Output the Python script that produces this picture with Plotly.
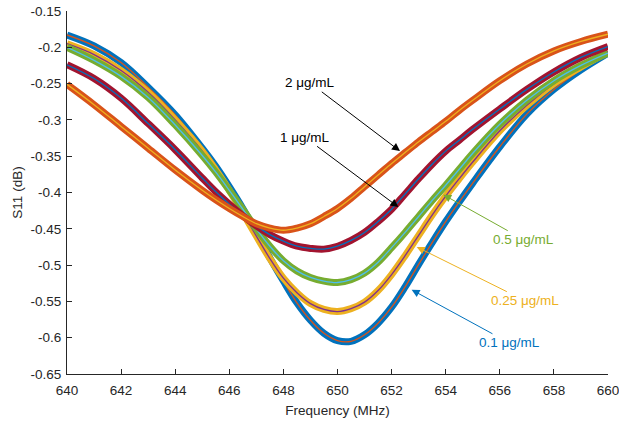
import plotly.graph_objects as go

freq = [640, 641, 642, 643, 644, 645, 645.5, 646, 646.5, 647, 647.5, 648, 648.5, 649, 649.5, 650,
        650.5, 651, 651.5, 652, 652.5, 653, 653.5, 654, 654.5, 655, 656, 657, 658, 659, 660]

s11_01 = [-0.183, -0.198, -0.221, -0.255, -0.293, -0.339, -0.364, -0.392, -0.422, -0.455, -0.490,
          -0.522, -0.552, -0.576, -0.594, -0.604, -0.605, -0.596, -0.580, -0.558, -0.530, -0.499,
          -0.469, -0.440, -0.413, -0.387, -0.337, -0.292, -0.258, -0.231, -0.208]
s11_025 = [-0.195, -0.210, -0.232, -0.262, -0.300, -0.343, -0.369, -0.397, -0.428, -0.460, -0.491,
           -0.518, -0.538, -0.553, -0.561, -0.564, -0.560, -0.551, -0.535, -0.513, -0.487, -0.459,
           -0.431, -0.405, -0.381, -0.358, -0.315, -0.280, -0.250, -0.227, -0.206]
s11_05 = [-0.200, -0.218, -0.240, -0.269, -0.307, -0.349, -0.372, -0.397, -0.423, -0.450, -0.474,
          -0.494, -0.508, -0.517, -0.522, -0.524, -0.520, -0.511, -0.496, -0.476, -0.455, -0.433,
          -0.411, -0.390, -0.368, -0.346, -0.306, -0.273, -0.246, -0.225, -0.208]
s11_1 = [-0.224, -0.243, -0.270, -0.305, -0.341, -0.380, -0.399, -0.416, -0.432, -0.446, -0.458,
         -0.467, -0.474, -0.477, -0.478, -0.474, -0.466, -0.455, -0.440, -0.423, -0.402, -0.381,
         -0.361, -0.343, -0.328, -0.313, -0.285, -0.258, -0.234, -0.214, -0.199]
s11_2 = [-0.251, -0.279, -0.309, -0.339, -0.369, -0.397, -0.410, -0.422, -0.433, -0.443, -0.449,
         -0.452, -0.449, -0.443, -0.433, -0.422, -0.408, -0.392, -0.376, -0.360, -0.345, -0.330,
         -0.316, -0.302, -0.287, -0.273, -0.246, -0.223, -0.205, -0.192, -0.182]

series_names = ["0.1 μg/mL", "0.25 μg/mL", "0.5 μg/mL", "1 μg/mL", "2 μg/mL"]
band_colors = ["#0072BD", "#EDB120", "#77AC30", "#A2142F", "#D95319"]
fit_colors = ["#D95319", "#7E2F8E", "#4DBEEE", "#0072BD", "#EDB120"]
series = [s11_01, s11_025, s11_05, s11_1, s11_2]

x_ticks = [640, 642, 644, 646, 648, 650, 652, 654, 656, 658, 660]
y_ticks = [-0.65, -0.6, -0.55, -0.5, -0.45, -0.4, -0.35, -0.3, -0.25, -0.2, -0.15]
y_tick_text = ["-0.65", "-0.6", "-0.55", "-0.5", "-0.45", "-0.4", "-0.35", "-0.3", "-0.25", "-0.2", "-0.15"]

# annotation: label, text position (freq, s11), arrow tip (freq, s11), color
ann_labels = ["2 μg/mL", "1 μg/mL", "0.5 μg/mL", "0.25 μg/mL", "0.1 μg/mL"]
ann_text_x = [648.98, 648.80, 656.89, 656.93, 656.34]
ann_text_y = [-0.249, -0.324, -0.465, -0.549, -0.607]
ann_tip_x = [652.31, 652.25, 653.91, 652.93, 652.74]
ann_tip_y = [-0.343, -0.420, -0.403, -0.475, -0.534]
ann_colors = ["#000000", "#000000", "#77AC30", "#EDB120", "#0072BD"]

FONT = "Liberation Sans, Arial, Helvetica, sans-serif"
TXT = "#262626"

fig = go.Figure()
for name, ys, bc, fc in zip(series_names, series, band_colors, fit_colors):
    fig.add_trace(go.Scatter(x=freq, y=ys, mode="lines", name=name,
                             line=dict(color=bc, width=7, shape="spline", smoothing=1.0),
                             showlegend=False))
    fig.add_trace(go.Scatter(x=freq, y=ys, mode="lines", name=name + " fit",
                             line=dict(color=fc, width=1.3, shape="spline", smoothing=1.0),
                             showlegend=False))

for lab, tx, ty, px, py, c in zip(ann_labels, ann_text_x, ann_text_y, ann_tip_x, ann_tip_y, ann_colors):
    fig.add_annotation(x=px, y=py, ax=tx, ay=ty, xref="x", yref="y", axref="x", ayref="y",
                       text=lab, showarrow=True, arrowhead=2, arrowsize=1.6, arrowwidth=1,
                       arrowcolor=c, font=dict(family=FONT, size=13.5, color=c))

fig.update_layout(
    width=619, height=424,
    margin=dict(l=67, r=11, t=11, b=50, autoexpand=False),
    paper_bgcolor="white", plot_bgcolor="white",
    font=dict(family=FONT, size=13.5, color=TXT),
    xaxis=dict(range=[640, 660], tickvals=x_ticks, ticks="inside", ticklen=5, tickcolor=TXT,
               showline=True, linecolor=TXT, linewidth=1, showgrid=False, zeroline=False,
               automargin=False, ticklabeloverflow="allow", ticklabelstandoff=4,
               title=dict(text="Frequency (MHz)", standoff=8, font=dict(size=13.5, color=TXT)),
               tickfont=dict(size=13.5, color=TXT)),
    yaxis=dict(range=[-0.65, -0.15], tickvals=y_ticks, ticktext=y_tick_text, ticks="inside",
               ticklen=5, tickcolor=TXT, showline=True, linecolor=TXT, linewidth=1,
               showgrid=False, zeroline=False, automargin=False, ticklabeloverflow="allow",
               ticklabelstandoff=2,
               title=dict(text="S11 (dB)", standoff=4, font=dict(size=13.5, color=TXT)),
               tickfont=dict(size=13.5, color=TXT)),
)

fig.write_html("out.html", config={"displayModeBar": False})

# remove the default page margin so the figure fills the window
with open("out.html", "r", encoding="utf-8") as fh:
    html = fh.read()
html = html.replace("<body>", '<body style="margin:0;padding:0;overflow:hidden">', 1)
with open("out.html", "w", encoding="utf-8") as fh:
    fh.write(html)
